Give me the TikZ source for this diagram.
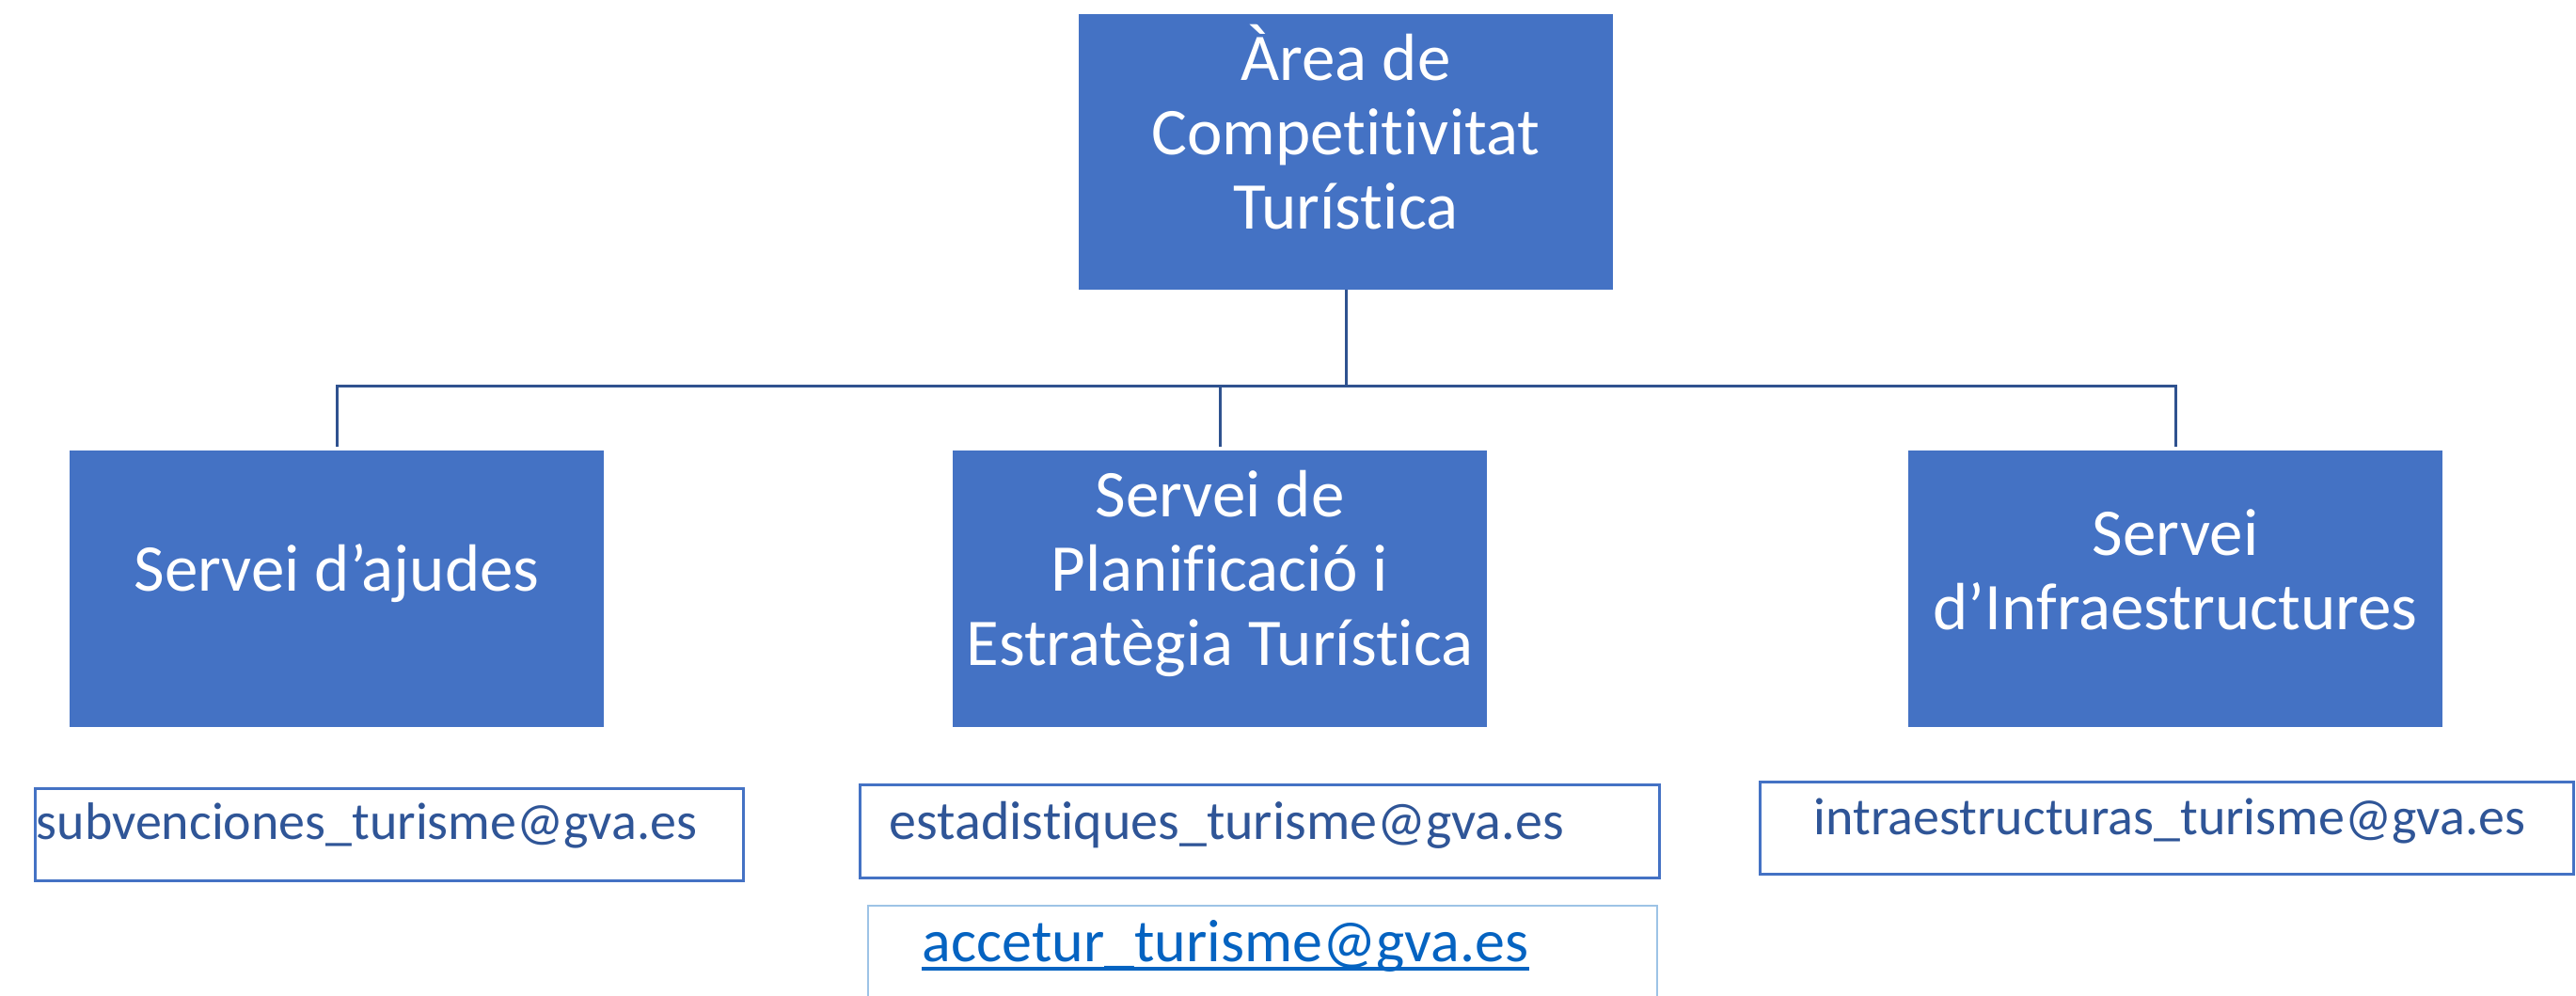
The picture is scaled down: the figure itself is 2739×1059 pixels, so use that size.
\documentclass[tikz,border=0pt]{standalone}
\usepackage{fontspec}
\setmainfont{Carlito}[Ligatures={NoCommon}]
\definecolor{boxblue}{HTML}{4472C4}
\definecolor{linkblue}{HTML}{2F528F}
\definecolor{mailtext}{HTML}{2F5597}
\definecolor{hyper}{HTML}{0563C1}
\definecolor{lightborder}{HTML}{9DC3E6}
\tikzset{
  orgbox/.style={fill=boxblue, draw=boxblue, line width=0.4pt, minimum width=141.5pt, minimum height=73pt, inner sep=0pt},
  orgtext/.style={text=white, align=center, font=\fontsize{17.75}{19.75}\selectfont, inner sep=0pt},
  mailbox/.style={draw=boxblue, line width=0.75pt, inner sep=0pt},
  mailtxt/.style={text=mailtext, font=\fontsize{14}{17}\selectfont, inner sep=0pt, anchor=base west},
  conn/.style={draw=linkblue, line width=0.75pt}
}
\begin{document}
\begin{tikzpicture}[x=0.25pt,y=-0.25pt]
\clip (0,0) rectangle (2739,1059);
\fill[white] (0,0) rectangle (2739,1059);
% main boxes
\node[orgbox] (top) at (1431,161.5) {};
\node[orgtext] (toptxt) at (1431,135) {Àrea de\\Competitivitat\\Turística};
\node[orgbox] (left) at (358,626) {};
\node[orgtext] (lefttxt) at (358,610) {Servei d’ajudes};
\node[orgbox] (mid) at (1297,626) {};
\node[orgtext] (midtxt) at (1297,610) {Servei de\\Planificació i\\Estratègia Turística};
\node[orgbox] (right) at (2313,626) {};
\node[orgtext] (righttxt) at (2313,606) {Servei\\d’Infraestructures};
% connectors
\coordinate (jL) at (358,410);
\coordinate (jR) at (2313,410);
\draw[conn] (top.south) -- (top.south |- jL);
\draw[conn] ([yshift=1pt]left.north) -- (jL) -- (jR) -- ([yshift=1pt]right.north);
\draw[conn] ([yshift=1pt]mid.north) -- (mid.north |- jL);
% mail boxes
\node[mailbox, minimum width=188.25pt, minimum height=24.5pt] (m1) at (413.5,887) {};
\node[mailtxt] (m1t) at (38,892) {subvenciones\_turisme@gva.es};
\node[mailbox, minimum width=212.5pt, minimum height=24.75pt] (m2) at (1339,883.5) {};
\node[mailtxt, font=\fontsize{14.5}{17}\selectfont] (m2t) at (945,892) {estadistiques\_turisme@gva.es};
\node[mailbox, minimum width=216.25pt, minimum height=24.5pt] (m3) at (2303.5,880) {};
\node[mailtxt] (m3t) at (1928,887) {intraestructuras\_turisme@gva.es};
\node[mailbox, draw=lightborder, line width=0.6pt, minimum width=209.75pt, minimum height=30pt] (m4) at (1342.5,1023) {};
\node[mailtxt, text=hyper, font=\fontsize{16}{19}\selectfont] (m4t) at (980,1022) {accetur\_turisme@gva.es};
\draw[hyper, line width=0.8pt] ([yshift=-2pt]m4t.base west) -- ([yshift=-2pt]m4t.base east);
\end{tikzpicture}
\end{document}
